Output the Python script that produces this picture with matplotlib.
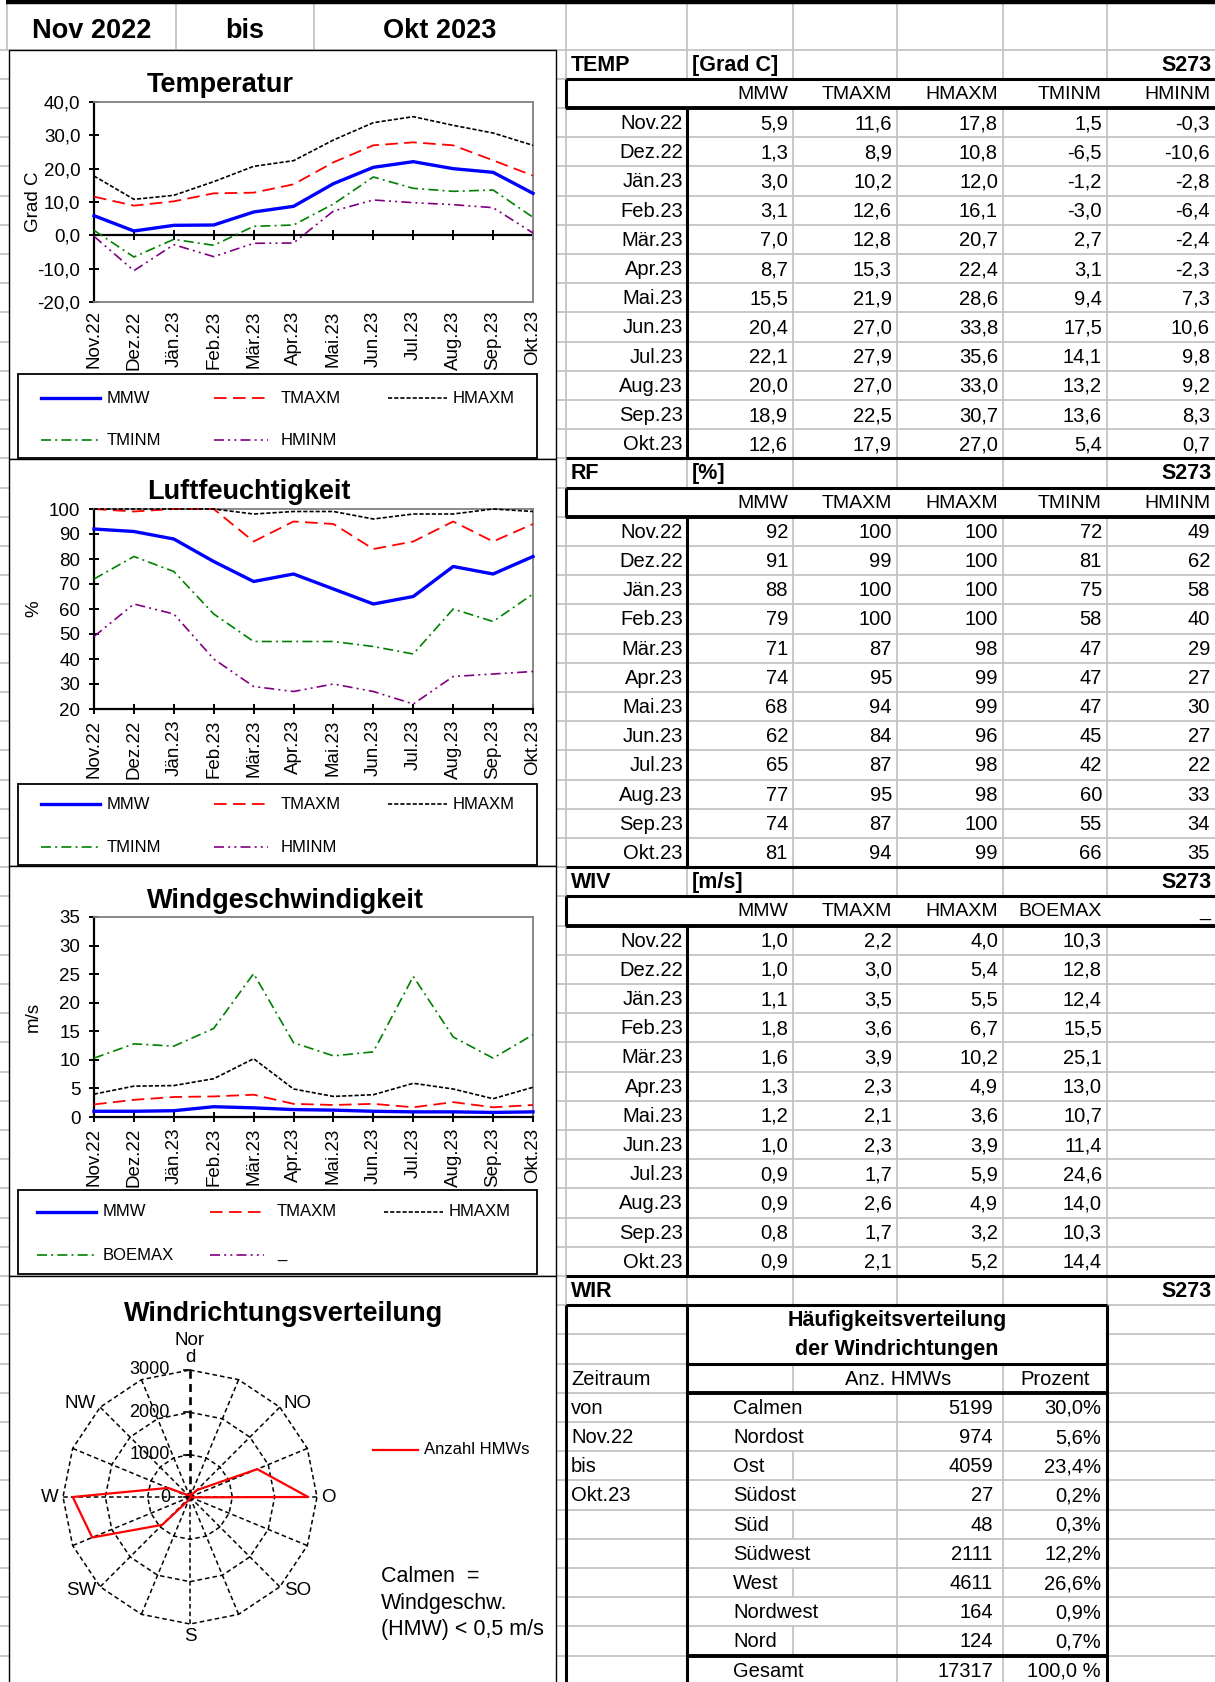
import numpy as np
import matplotlib.pyplot as plt
from matplotlib.patches import Rectangle

plt.rcParams['font.family'] = ['Liberation Sans', 'DejaVu Sans']

W, H = 1215, 1682

# --- Daten ---
monate = ['Nov.22', 'Dez.22', 'Jän.23', 'Feb.23', 'Mär.23', 'Apr.23',
          'Mai.23', 'Jun.23', 'Jul.23', 'Aug.23', 'Sep.23', 'Okt.23']

temp_mmw = [5.9, 1.3, 3.0, 3.1, 7.0, 8.7, 15.5, 20.4, 22.1, 20.0, 18.9, 12.6]
temp_tmaxm = [11.6, 8.9, 10.2, 12.6, 12.8, 15.3, 21.9, 27.0, 27.9, 27.0, 22.5, 17.9]
temp_hmaxm = [17.8, 10.8, 12.0, 16.1, 20.7, 22.4, 28.6, 33.8, 35.6, 33.0, 30.7, 27.0]
temp_tminm = [1.5, -6.5, -1.2, -3.0, 2.7, 3.1, 9.4, 17.5, 14.1, 13.2, 13.6, 5.4]
temp_hminm = [-0.3, -10.6, -2.8, -6.4, -2.4, -2.3, 7.3, 10.6, 9.8, 9.2, 8.3, 0.7]

rf_mmw = [92, 91, 88, 79, 71, 74, 68, 62, 65, 77, 74, 81]
rf_tmaxm = [100, 99, 100, 100, 87, 95, 94, 84, 87, 95, 87, 94]
rf_hmaxm = [100, 100, 100, 100, 98, 99, 99, 96, 98, 98, 100, 99]
rf_tminm = [72, 81, 75, 58, 47, 47, 47, 45, 42, 60, 55, 66]
rf_hminm = [49, 62, 58, 40, 29, 27, 30, 27, 22, 33, 34, 35]

wiv_mmw = [1.0, 1.0, 1.1, 1.8, 1.6, 1.3, 1.2, 1.0, 0.9, 0.9, 0.8, 0.9]
wiv_tmaxm = [2.2, 3.0, 3.5, 3.6, 3.9, 2.3, 2.1, 2.3, 1.7, 2.6, 1.7, 2.1]
wiv_hmaxm = [4.0, 5.4, 5.5, 6.7, 10.2, 4.9, 3.6, 3.9, 5.9, 4.9, 3.2, 5.2]
wiv_boemax = [10.3, 12.8, 12.4, 15.5, 25.1, 13.0, 10.7, 11.4, 24.6, 14.0, 10.3, 14.4]
wiv_leer = []

temp_spalten = ['MMW', 'TMAXM', 'HMAXM', 'TMINM', 'HMINM']
wiv_spalten = ['MMW', 'TMAXM', 'HMAXM', 'BOEMAX', '_']

# Windrose: 16 Sektoren (aus dem Diagramm geschaetzt)
rose_richtung = ['Nor\nd', '', 'NO', '', 'O', '', 'SO', '', 'S', '', 'SW', '', 'W', '', 'NW', '']
rose_anzahl = [60, 40, 230, 1720, 2790, 20, 10, 10, 20, 80, 930, 2500, 2770, 560, 60, 50]
rose_ringe = [0, 1000, 2000, 3000]

wir_namen = ['Calmen', 'Nordost', 'Ost', 'Südost', 'Süd', 'Südwest', 'West', 'Nordwest', 'Nord']
wir_anzahl = [5199, 974, 4059, 27, 48, 2111, 4611, 164, 124]
zeitraum = ['von', monate[0], 'bis', monate[-1]]


def fmt1(v):
    return f'{v:.1f}'.replace('.', ',')


def fmt0(v):
    return f'{v:.0f}'


# --- Layout (Pixel) ---
R0, RH = 49.5, 29.2
C = [566, 687, 793, 897, 1003, 1107, 1215]
GRAU = '#c4c4c4'


def ry(i):
    return R0 + i * RH


def rc(i):
    return R0 + (i + 0.5) * RH + 1


fig = plt.figure(figsize=(W / 100, H / 100), dpi=100)
bg = fig.add_axes([0, 0, 1, 1])
bg.set_xlim(0, W)
bg.set_ylim(H, 0)
bg.axis('off')


def px_axes(x0, y0, x1, y1):
    return fig.add_axes([x0 / W, 1 - y1 / H, (x1 - x0) / W, (y1 - y0) / H])


def hl(y, x0, x1, c=GRAU, lw=1.3, z=1):
    bg.plot([x0, x1], [y, y], color=c, lw=lw, zorder=z, solid_capstyle='butt')


def vl(x, y0, y1, c=GRAU, lw=1.3, z=1):
    bg.plot([x, x], [y0, y1], color=c, lw=lw, zorder=z, solid_capstyle='butt')


# Tabellengitter (grau)
for x in [7, 176, 314] + C[:6]:
    vl(x, 4, ry(0))
for i in range(57):
    if i == 44:
        hl(ry(i), 0, C[1])
        hl(ry(i), C[5], W)
    else:
        hl(ry(i), 0, W)
for i in range(56):
    if i in (1, 15, 29):
        xs = [C[0]]
    elif i in (43, 44):
        xs = [C[0]]
    elif i == 45:
        xs = [C[0], C[2], C[4]]
    elif i >= 46:
        xs = [C[0], C[3], C[4]]
        if i <= 54 and len(wir_namen[i - 46]) <= 4:
            xs.append(C[2])
    else:
        xs = C[:6]
    for x in xs:
        vl(x, ry(i), ry(i + 1))

# dicke Linien
hl(2, 6, W, 'k', 3.2, 2)
for b in (0, 14, 28):
    hl(ry(b + 1), C[0], W, 'k', 2.2, 2)
    hl(ry(b + 2), C[0], W, 'k', 2.8, 2)
    vl(C[0], ry(b + 1), ry(b + 2), 'k', 2.2, 2)
    vl(C[1], ry(b + 2), ry(b + 14), 'k', 2.2, 2)
    hl(ry(b + 14), C[0], W, 'k', 2.2, 2)
hl(ry(43), C[0], C[5], 'k', 2.2, 2)
for x in (C[0], C[1], C[5]):
    vl(x, ry(43), H, 'k', 2.2, 2)
hl(ry(45), C[1], C[5], 'k', 2.2, 2)
hl(ry(46), C[1], C[5], 'k', 2.8, 2)
hl(ry(55), C[1], C[5], 'k', 2.8, 2)

# Kopfzeile
kopf = dict(fontsize=19.5, fontweight='bold', ha='center', va='center')
bg.text(92, 31, 'Nov 2022', **kopf)
bg.text(245, 31, 'bis', **kopf)
bg.text(440, 31, 'Okt 2023', **kopf)

# Tabellen TEMP / RF / WIV
bloecke = [
    (0, 'TEMP', '[Grad C]', temp_spalten,
     [temp_mmw, temp_tmaxm, temp_hmaxm, temp_tminm, temp_hminm], fmt1),
    (14, 'RF', '[%]', temp_spalten,
     [rf_mmw, rf_tmaxm, rf_hmaxm, rf_tminm, rf_hminm], fmt0),
    (28, 'WIV', '[m/s]', wiv_spalten,
     [wiv_mmw, wiv_tmaxm, wiv_hmaxm, wiv_boemax, wiv_leer], fmt1),
]
fett = dict(fontsize=15.5, fontweight='bold', va='center', zorder=5)
for b, name, einheit, spalten, werte, fmt in bloecke:
    bg.text(C[0] + 5, rc(b), name, ha='left', **fett)
    bg.text(C[1] + 5, rc(b), einheit, ha='left', **fett)
    bg.text(W - 3, rc(b), 'S273', ha='right', **fett)
    for k, sp in enumerate(spalten):
        bg.text(C[k + 2] - 5, rc(b + 1), sp, ha='right', va='center', fontsize=14)
    for j, m in enumerate(monate):
        bg.text(C[1] - 4, rc(b + 2 + j), m, ha='right', va='center', fontsize=14.5)
        for k, serie in enumerate(werte):
            if len(serie):
                bg.text(C[k + 2] - 5, rc(b + 2 + j), fmt(serie[j]),
                        ha='right', va='center', fontsize=14.5)

# Tabelle WIR
gesamt = sum(wir_anzahl)
bg.text(C[0] + 5, rc(42), 'WIR', ha='left', **fett)
bg.text(W - 3, rc(42), 'S273', ha='right', **fett)
mitte = (C[1] + C[5]) / 2
bg.text(mitte, rc(43), 'Häufigkeitsverteilung', ha='center', **fett)
bg.text(mitte, rc(44), 'der Windrichtungen', ha='center', **fett)
bg.text(C[0] + 5, rc(45), 'Zeitraum', ha='left', va='center', fontsize=14.5)
bg.text((C[2] + C[4]) / 2, rc(45), 'Anz. HMWs', ha='center', va='center', fontsize=14.5)
bg.text((C[4] + C[5]) / 2, rc(45), 'Prozent', ha='center', va='center', fontsize=14.5)
for j, t in enumerate(zeitraum):
    bg.text(C[0] + 5, rc(46 + j), t, ha='left', va='center', fontsize=14.5)
for j, (n, a) in enumerate(zip(wir_namen, wir_anzahl)):
    bg.text(C[1] + 46, rc(46 + j), n, ha='left', va='center', fontsize=14.5)
    bg.text(C[4] - 10, rc(46 + j), str(a), ha='right', va='center', fontsize=14.5)
    proz = f'{100 * a / gesamt:.1f}%'.replace('.', ',')
    bg.text(C[5] - 6, rc(46 + j), proz, ha='right', va='center', fontsize=14.5)
bg.text(C[1] + 46, rc(55), 'Gesamt', ha='left', va='center', fontsize=14.5)
bg.text(C[4] - 10, rc(55), str(gesamt), ha='right', va='center', fontsize=14.5)
bg.text(C[5] - 6, rc(55), '100,0 %', ha='right', va='center', fontsize=14.5)

# --- Liniendiagramme ---
STILE = [dict(color='#0000FF', lw=2.4, ls='-'),
         dict(color='#FF0000', lw=1.3, ls=(0, (7, 3.5))),
         dict(color='black', lw=1.2, ls=(0, (2.5, 1.2))),
         dict(color='#008000', lw=1.2, ls=(0, (6, 2.5, 1.2, 2.5))),
         dict(color='#800080', lw=1.2, ls=(0, (6, 2.5, 1.2, 2.5, 1.2, 2.5)))]
LEG_X = [(41, 100, 107), (214, 268, 281), (388, 447, 453)]


def diagramm(box, titel, titel_y, plot_y, serien, namen, yr, fmt, ylabel,
             leg_box, leg_rows, null_achse=False, leg_dx=0):
    bg.add_patch(Rectangle((8.5, box[0]), 547.5, box[1] - box[0], fc='white',
                           ec='black', lw=1.0, zorder=3))
    bg.text(147, titel_y, titel, fontsize=19.5, fontweight='bold',
            ha='left', va='center', zorder=5)
    ax = px_axes(94, plot_y, 533, plot_y + 200)
    for serie, st in zip(serien, STILE):
        if len(serie):
            ax.plot(range(len(serie)), serie, clip_on=False, zorder=3, **st)
    ax.set_xlim(0, 11)
    ax.set_ylim(yr[0], yr[1])
    ticks = np.arange(yr[0], yr[1] + yr[2] / 2, yr[2])
    ax.set_yticks(ticks)
    ax.set_yticklabels([fmt(t) for t in ticks])
    ax.set_xticks(range(12))
    ax.set_xticklabels(monate, rotation=90)
    for s in ax.spines.values():
        s.set_color('#808080')
        s.set_linewidth(1.3)
    ax.spines['left'].set_color('black')
    ax.spines['left'].set_linewidth(1.6)
    ax.tick_params(axis='y', direction='inout', length=7.5, width=1.4,
                   labelsize=13.5, pad=6)
    if null_achse:
        ax.tick_params(axis='x', length=0, labelsize=13.5, pad=6)
        ax.axhline(0, color='black', lw=1.6, zorder=2)
        ax.plot(range(12), [0] * 12, ls='none', marker='|', ms=7.5,
                mew=1.4, color='black', zorder=2)
    else:
        ax.spines['bottom'].set_color('black')
        ax.spines['bottom'].set_linewidth(1.6)
        ax.tick_params(axis='x', direction='inout', length=7.5, width=1.4,
                       labelsize=13.5, pad=4)
    ax.set_ylabel(ylabel, fontsize=13.5)
    ax.yaxis.set_label_coords((42 - 94) / 439, 0.5)

    bg.add_patch(Rectangle((18, leg_box[0]), 519, leg_box[1] - leg_box[0],
                           fc='white', ec='black', lw=1.3, zorder=4))
    for k, (name, st) in enumerate(zip(namen, STILE)):
        x0, x1, xt = LEG_X[k % 3]
        y = leg_rows[k // 3]
        bg.plot([x0 + leg_dx, x1 + leg_dx], [y, y], zorder=5, **st)
        bg.text(xt + leg_dx, y, name, fontsize=12, ha='left', va='center', zorder=5)
    return ax


diagramm((50, 459), 'Temperatur', 85, 102,
         [temp_mmw, temp_tmaxm, temp_hmaxm, temp_tminm, temp_hminm],
         temp_spalten, (-20, 40, 10), fmt1, 'Grad C', (374, 458), (398, 440),
         null_achse=True)
diagramm((459, 866), 'Luftfeuchtigkeit', 492, 509,
         [rf_mmw, rf_tmaxm, rf_hmaxm, rf_tminm, rf_hminm],
         temp_spalten, (20, 100, 10), fmt0, '%', (784, 865), (804, 847))
diagramm((866, 1276), 'Windgeschwindigkeit', 901, 917,
         [wiv_mmw, wiv_tmaxm, wiv_hmaxm, wiv_boemax, wiv_leer],
         ['MMW', 'TMAXM', 'HMAXM', 'BOEMAX', '_'], (0, 35, 5), fmt0, 'm/s',
         (1190, 1274), (1212, 1255), leg_dx=-4)

# --- Windrose ---
bg.add_patch(Rectangle((8.5, 1276), 547.5, H - 1276 + 5, fc='white',
                       ec='black', lw=1.0, zorder=3))
bg.text(124, 1314, 'Windrichtungsverteilung', fontsize=19.5, fontweight='bold',
        ha='left', va='center', zorder=5)

RX, RY, RPX = 190, 1497, 127
HALB = 170
k = rose_ringe[-1] / RPX
L = HALB * k
axr = px_axes(RX - HALB, RY - HALB, RX + HALB, RY + HALB)
axr.set_xlim(-L, L)
axr.set_ylim(-L, L)
axr.axis('off')

theta = np.deg2rad(np.arange(len(rose_anzahl)) * 360 / len(rose_anzahl))
tz = np.append(theta, theta[0])
gitter = dict(color='black', lw=1.1, ls=(0, (3, 2)))
for r in rose_ringe[1:]:
    axr.plot(r * np.sin(tz), r * np.cos(tz), **gitter)
rmax = rose_ringe[-1]
for i, t in enumerate(theta):
    st = dict(gitter)
    if i == 0:
        st['lw'] = 1.9
    axr.plot([0, rmax * np.sin(t)], [0, rmax * np.cos(t)], **st)
werte = np.append(rose_anzahl, rose_anzahl[0])
axr.plot(werte * np.sin(tz), werte * np.cos(tz), color='#FF0000', lw=1.6, zorder=4)

for r in rose_ringe:
    axr.plot([-6 * k, 0], [r, r], color='black', lw=1.2)
    axr.text(-20 * k, r, str(r), ha='right', va='center', fontsize=13)

for t, lab in zip(theta, rose_richtung):
    if not lab:
        continue
    s, c = np.sin(t), np.cos(t)
    ha = 'left' if s > 0.1 else ('right' if s < -0.1 else 'center')
    va = 'bottom' if c > 0.9 else ('top' if c < -0.9 else 'center')
    dx = 4 * np.sign(round(s, 3))
    dy = 4 * np.sign(round(c, 3))
    axr.text(rmax * s + dx * k, rmax * c + dy * k, lab, ha=ha, va=va,
             fontsize=13.5, linespacing=1.0)

bg.plot([373, 418], [1450, 1450], color='#FF0000', lw=1.6, zorder=5)
bg.text(424, 1450, 'Anzahl HMWs', fontsize=12, ha='left', va='center', zorder=5)
for j, zeile in enumerate(['Calmen  =', 'Windgeschw.', '(HMW) < 0,5 m/s']):
    bg.text(381, 1577 + 26.5 * j, zeile, fontsize=15.5, ha='left',
            va='center', zorder=5)

fig.savefig('out.png', dpi=100)
